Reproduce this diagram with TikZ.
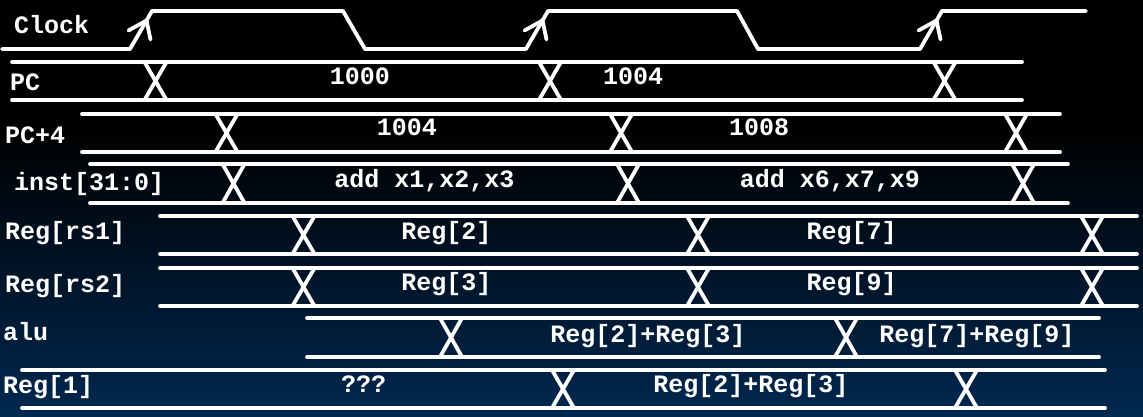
\documentclass[tikz,border=0pt]{standalone}
\usepackage{fontspec}
\setmainfont{Liberation Mono}
\usetikzlibrary{calc}
\definecolor{navybot}{RGB}{0,40,80}
\newcommand\busrow[5]{%
  \draw[sig] (#1,#3) -- (#2,#3);
  \draw[sig] (#1,#4) -- (#2,#4);
  \foreach \c in {#5} {\draw[sig,line cap=butt] (\c-11,#3) -- (\c+11,#4) (\c+11,#3) -- (\c-11,#4);}%
}
\begin{document}
\begin{tikzpicture}[x=1pt,y=-1pt,
  sig/.style={white,line width=3.8pt,line cap=round,line join=round},
  lbl/.style={white,font=\fontsize{25}{28}\selectfont\bfseries,inner sep=0pt,anchor=base west},
  val/.style={white,font=\fontsize{25}{28}\selectfont\bfseries,inner sep=0pt,anchor=base}]
\useasboundingbox (0,0) rectangle (1143,416);
\fill[black] (0,0) rectangle (1143,416);
\shade[top color=black,bottom color=navybot] (0,130) rectangle (1143,416);

% clock
\draw[sig] (2,49) -- (130,49) -- (152,11) -- (343,11) -- (365,49) -- (526,49) -- (548,11) -- (737,11) -- (758,49) -- (920,49) -- (942,11) -- (1086,11);
\foreach \t in {146.5,542.5,936.5} {
  \coordinate (tip) at (\t,20.5);
  \draw[sig] ($(tip)+(-18,10)$) -- (tip) -- ($(tip)+(4,19)$);
}

% buses
\busrow{12}{1022}{62}{100}{155.5,550,944.5}
\busrow{82}{1060}{114}{152}{226.5,621,1016}
\busrow{90}{1068}{164}{203}{233.5,628,1023}
\busrow{160}{1137}{216}{254}{303.5,698,1092}
\busrow{160}{1137}{268}{306}{303.5,698,1092}
\busrow{307}{1099}{318}{357}{451,846}
\busrow{22}{1105}{370}{408}{563,966}

% row labels
\node[lbl] (lclk) at (14,33) {Clock};
\node[lbl] (lpc) at (10,90) {PC};
\node[lbl] (lpc4) at (5,143) {PC+4};
\node[lbl] (linst) at (14,190) {inst[31:0]};
\node[lbl] (lrs1) at (5,239) {Reg[rs1]};
\node[lbl] (lrs2) at (5,292) {Reg[rs2]};
\node[lbl] (lalu) at (3,340) {alu};
\node[lbl] (lr1) at (3,393) {Reg[1]};

% values
\node[val] (v1) at (360,84) {1000};
\node[val] (v2) at (633,84) {1004};
\node[val] (v3) at (407,135) {1004};
\node[val] (v4) at (759,135) {1008};
\node[val] (v5) at (424.5,187) {add x1,x2,x3};
\node[val] (v6) at (830,187) {add x6,x7,x9};
\node[val] (v7) at (446.5,239) {Reg[2]};
\node[val] (v8) at (851.5,239) {Reg[7]};
\node[val] (v9) at (446.5,290) {Reg[3]};
\node[val] (v10) at (851.5,290) {Reg[9]};
\node[val] (v11) at (648,342) {Reg[2]+Reg[3]};
\node[val] (v12) at (977,342) {Reg[7]+Reg[9]};
\node[val] (v13) at (363.5,392) {???};
\node[val] (v14) at (751,392) {Reg[2]+Reg[3]};
\end{tikzpicture}
\end{document}
